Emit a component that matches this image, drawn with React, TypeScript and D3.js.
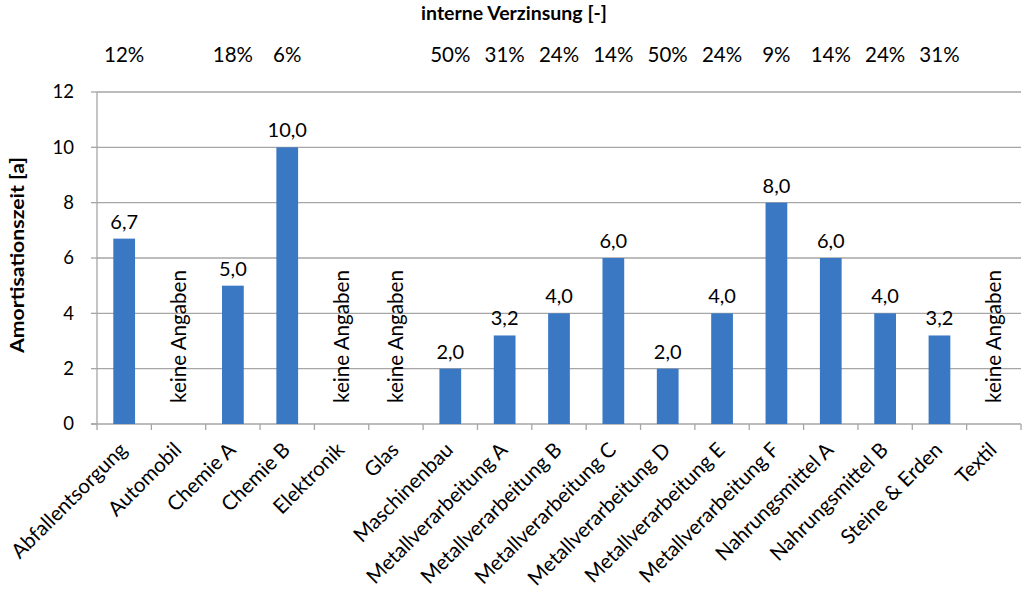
import React, { useEffect, useRef } from 'react';
import * as d3 from 'd3';

const categories = [
  'Abfallentsorgung', 'Automobil', 'Chemie A', 'Chemie B', 'Elektronik', 'Glas',
  'Maschinenbau', 'Metallverarbeitung A', 'Metallverarbeitung B', 'Metallverarbeitung C',
  'Metallverarbeitung D', 'Metallverarbeitung E', 'Metallverarbeitung F',
  'Nahrungsmittel A', 'Nahrungsmittel B', 'Steine & Erden', 'Textil',
];
// null = keine Angaben
const payback: (number | null)[] = [6.7, null, 5.0, 10.0, null, null, 2.0, 3.2, 4.0, 6.0, 2.0, 4.0, 8.0, 6.0, 4.0, 3.2, null];
const irr: (string | null)[] = ['12%', null, '18%', '6%', null, null, '50%', '31%', '24%', '14%', '50%', '24%', '9%', '14%', '24%', '31%', null];
const yTicks = [0, 2, 4, 6, 8, 10, 12];

const W = 1024;
const H = 593;
const FONT = 'Lato, "Open Sans", sans-serif';

const App: React.FC = () => {
  const svgRef = useRef<SVGSVGElement>(null);

  useEffect(() => {
    if (!svgRef.current) return;
    const svg = d3.select(svgRef.current);
    svg.selectAll('*').remove();

    const left = 97, right = 1021, top = 92, bottom = 424;

    const x = d3.scaleBand<string>().domain(categories).range([left, right]).paddingInner(0.6).paddingOuter(0.3);
    const xb = d3.scaleBand<string>().domain(categories).range([left, right]);
    const y = d3.scaleLinear().domain([0, 12]).range([bottom, top]);
    const cx = (c: string) => (xb(c) as number) + xb.bandwidth() / 2;

    // grid
    svg.append('g').selectAll('line').data(yTicks.filter(t => t > 0)).enter().append('line')
      .attr('x1', left).attr('x2', right)
      .attr('y1', d => y(d)).attr('y2', d => y(d))
      .attr('stroke', '#a6a6a6').attr('stroke-width', 1.3);

    // axes lines
    svg.append('line').attr('x1', left).attr('x2', left).attr('y1', top).attr('y2', bottom)
      .attr('stroke', '#a6a6a6').attr('stroke-width', 1.3);
    svg.append('line').attr('x1', left - 6).attr('x2', right).attr('y1', bottom).attr('y2', bottom)
      .attr('stroke', '#a6a6a6').attr('stroke-width', 1.3);

    // y tick marks + labels
    svg.append('g').selectAll('line').data(yTicks).enter().append('line')
      .attr('x1', left - 6).attr('x2', left).attr('y1', d => y(d)).attr('y2', d => y(d))
      .attr('stroke', '#a6a6a6').attr('stroke-width', 1.3);
    svg.append('g').selectAll('text').data(yTicks).enter().append('text')
      .attr('x', left - 23).attr('y', d => y(d)).attr('dy', '0.35em')
      .attr('text-anchor', 'end').attr('font-size', 18.5).attr('font-family', FONT).attr('fill', '#000')
      .text(d => String(d));

    // x tick marks at band boundaries
    const bounds = categories.map(c => xb(c) as number).concat([right]);
    svg.append('g').selectAll('line').data(bounds).enter().append('line')
      .attr('x1', d => d).attr('x2', d => d).attr('y1', bottom).attr('y2', bottom + 6)
      .attr('stroke', '#a6a6a6').attr('stroke-width', 1.3);

    // bars
    const rows = categories.map((c, i) => ({ c, v: payback[i], r: irr[i] }));
    svg.append('g').selectAll('rect').data(rows.filter(d => d.v !== null)).enter().append('rect')
      .attr('x', d => x(d.c) as number).attr('width', x.bandwidth())
      .attr('y', d => y(d.v as number)).attr('height', d => bottom - y(d.v as number))
      .attr('fill', '#3a78c3');

    // value labels
    svg.append('g').selectAll('text').data(rows.filter(d => d.v !== null)).enter().append('text')
      .attr('x', d => cx(d.c))
      .attr('y', d => y(d.v as number) - 10)
      .attr('text-anchor', 'middle').attr('font-size', 20).attr('font-family', FONT).attr('fill', '#000')
      .text(d => (d.v as number).toFixed(1).replace('.', ','));

    // keine Angaben
    svg.append('g').selectAll('text').data(rows.filter(d => d.v === null)).enter().append('text')
      .attr('transform', d => `translate(${cx(d.c) + 7},${bottom - 21}) rotate(-90)`)
      .attr('text-anchor', 'start').attr('font-size', 21.5).attr('font-family', FONT).attr('fill', '#000')
      .attr('textLength', 133).attr('lengthAdjust', 'spacingAndGlyphs')
      .text('keine Angaben');

    // interne Verzinsung row
    svg.append('g').selectAll('text').data(rows.filter(d => d.r !== null)).enter().append('text')
      .attr('x', d => cx(d.c))
      .attr('y', 62)
      .attr('text-anchor', 'middle').attr('font-size', 20.5).attr('font-family', FONT).attr('fill', '#000')
      .text(d => d.r as string);

    // category labels
    svg.append('g').selectAll('text').data(categories).enter().append('text')
      .attr('transform', c => `translate(${cx(c) - 6},${bottom + 17}) rotate(-45)`)
      .attr('text-anchor', 'end').attr('dy', '0.7em')
      .attr('font-size', 20.5).attr('font-family', FONT).attr('fill', '#000')
      .text(c => c);

    // titles
    svg.append('text').attr('x', 514).attr('y', 20).attr('text-anchor', 'middle')
      .attr('font-size', 19.5).attr('font-weight', 'bold').attr('font-family', FONT).attr('fill', '#000')
      .text('interne Verzinsung [-]');
    svg.append('text').attr('transform', `translate(24,255) rotate(-90)`)
      .attr('text-anchor', 'middle')
      .attr('font-size', 19).attr('font-weight', 'bold').attr('font-family', FONT).attr('fill', '#000')
      .attr('textLength', 196).attr('lengthAdjust', 'spacingAndGlyphs')
      .text('Amortisationszeit [a]');
  }, []);

  return (
    <svg ref={svgRef} width={W} height={H}
      style={{ position: 'absolute', left: 0, top: 0, background: '#fff' }} />
  );
};

export default App;
